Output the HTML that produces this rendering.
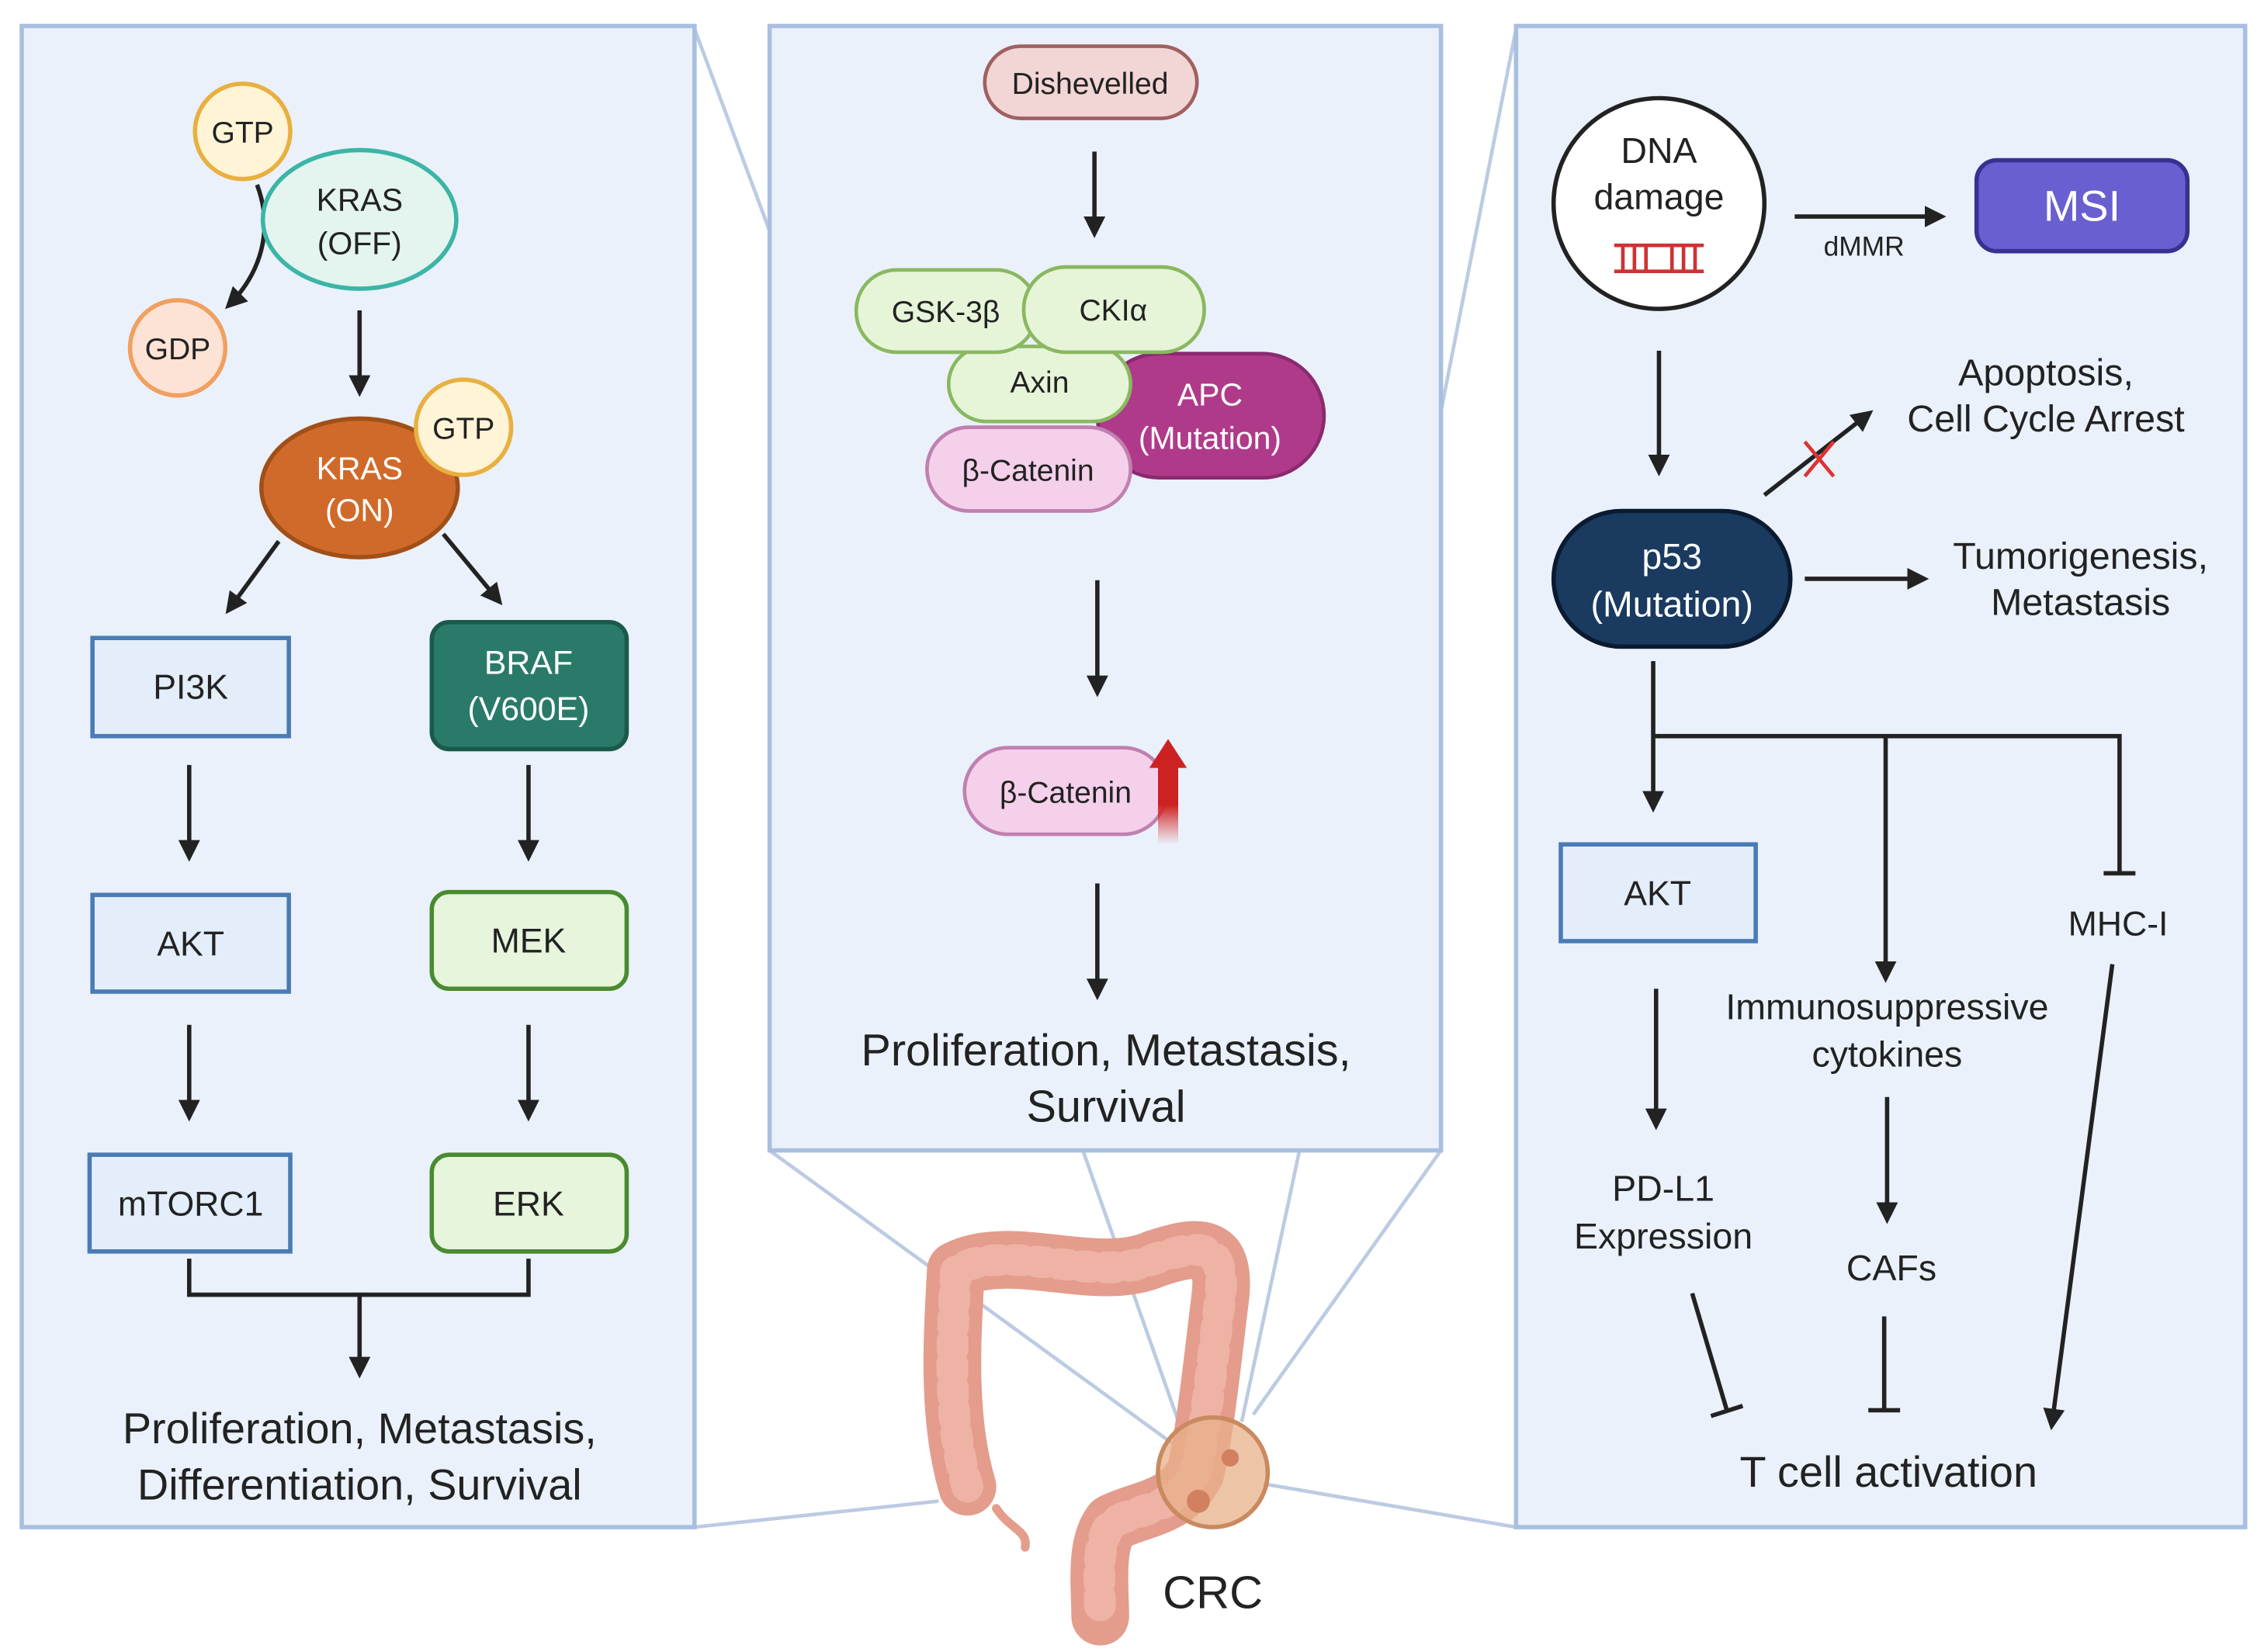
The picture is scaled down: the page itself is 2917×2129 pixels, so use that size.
<!DOCTYPE html>
<html><head><meta charset="utf-8"><style>
html,body{margin:0;padding:0;background:#fff}
svg{display:block}
text{font-family:"Liberation Sans",sans-serif;fill:#222;text-anchor:middle}
</style></head><body>
<svg width="2917" height="2129" viewBox="0 0 1568 1144.5" xmlns="http://www.w3.org/2000/svg">
<defs>
<marker id="ar" markerWidth="5" markerHeight="5" refX="4" refY="2.5" orient="auto" markerUnits="strokeWidth">
<path d="M0,0 L5,2.5 L0,5 z" fill="#222"/></marker>
<linearGradient id="rg" x1="0" y1="1" x2="0" y2="0"><stop offset="0" stop-color="#d33" stop-opacity="0"/><stop offset="0.5" stop-color="#c22"/><stop offset="1" stop-color="#c22"/></linearGradient>
</defs>
<g stroke="#bccbe2" stroke-width="2.5" fill="none">
<line x1="481" y1="20" x2="533" y2="160"/>
<line x1="998" y1="285" x2="1050" y2="20"/>
<line x1="481" y1="1058" x2="650" y2="1040"/>
<line x1="1050" y1="1058" x2="875" y2="1028"/>
<line x1="533" y1="797" x2="812" y2="1000"/>
<line x1="750" y1="797" x2="818" y2="990"/>
<line x1="900" y1="797" x2="860" y2="985"/>
<line x1="998" y1="797" x2="868" y2="980"/>
</g>
<g fill="#eaf1fb" stroke="#a9bfe0" stroke-width="3">
<rect x="15" y="18" width="466" height="1040"/>
<rect x="533" y="18" width="465" height="779"/>
<rect x="1050" y="18" width="505" height="1040"/>
</g>
<g fill="none" stroke-linecap="round" stroke-linejoin="round">
<path d="M670,1030 C655,980 660,920 662,880 C700,860 760,890 800,872 C830,862 850,860 845,900 C840,940 835,990 828,1020 C815,1045 790,1045 770,1055 C758,1070 762,1100 762,1120" stroke="#e49c8c" stroke-width="40"/>
<path d="M670,1030 C655,980 660,920 662,880 C700,860 760,890 800,872 C830,862 850,860 845,900 C840,940 835,990 828,1020 C815,1045 790,1045 770,1055 C758,1070 762,1100 762,1120" stroke="#eeb3a5" stroke-width="22" stroke-dasharray="6 10"/>
<path d="M690,1045 C700,1060 712,1060 710,1072" stroke="#e49c8c" stroke-width="6"/>
</g>
<circle cx="840" cy="1020" r="38" fill="#e8b08a" fill-opacity="0.75" stroke="#c98a60" stroke-width="3"/>
<circle cx="830" cy="1040" r="8" fill="#d28060"/><circle cx="852" cy="1010" r="6" fill="#d28060"/>
<text x="840" y="1114" font-size="32">CRC</text>

<path d="M178,128 C190,160 180,190 158,212" stroke="#222" stroke-width="3" fill="none" marker-end="url(#ar)"/>
<ellipse cx="249" cy="152" rx="67" ry="48" fill="#e4f4ef" stroke="#3bb5a5" stroke-width="3"/>
<text x="249" y="146" font-size="22">KRAS</text><text x="249" y="176" font-size="22">(OFF)</text>
<circle cx="168" cy="91" r="33" fill="#fff4d6" stroke="#e8b040" stroke-width="3"/><text x="168" y="99" font-size="21">GTP</text>
<circle cx="123" cy="241" r="33" fill="#fde2d6" stroke="#f0a060" stroke-width="3"/><text x="123" y="249" font-size="21">GDP</text>
<line x1="249" y1="215" x2="249" y2="272" stroke="#222" stroke-width="3" marker-end="url(#ar)"/>
<ellipse cx="249" cy="338" rx="68" ry="48" fill="#d06a2a" stroke="#a04f18" stroke-width="3"/>
<text x="249" y="332" font-size="22" style="fill:#fff">KRAS</text><text x="249" y="361" font-size="22" style="fill:#fff">(ON)</text>
<circle cx="321" cy="296" r="33" fill="#fff4d6" stroke="#e8b040" stroke-width="3"/><text x="321" y="304" font-size="21">GTP</text>
<line x1="193" y1="375" x2="158" y2="423" stroke="#222" stroke-width="3" marker-end="url(#ar)"/>
<line x1="307" y1="370" x2="346" y2="417" stroke="#222" stroke-width="3" marker-end="url(#ar)"/>
<rect x="64" y="442" width="136" height="68" fill="#e3eefa" stroke="#4a7bb5" stroke-width="3"/><text x="132" y="484" font-size="24">PI3K</text>
<rect x="299" y="431" width="135" height="88" rx="12" fill="#2a7a6a" stroke="#1a5a4a" stroke-width="3"/>
<text x="366" y="467" font-size="23" style="fill:#fff">BRAF</text><text x="366" y="499" font-size="23" style="fill:#fff">(V600E)</text>
<g stroke="#222" stroke-width="3" marker-end="url(#ar)">
<line x1="131" y1="530" x2="131" y2="594"/><line x1="366" y1="530" x2="366" y2="594"/>
<line x1="131" y1="710" x2="131" y2="774"/><line x1="366" y1="710" x2="366" y2="774"/>
<line x1="249" y1="897" x2="249" y2="952"/>
</g>
<rect x="64" y="620" width="136" height="67" fill="#e3eefa" stroke="#4a7bb5" stroke-width="3"/><text x="132" y="662" font-size="24">AKT</text>
<rect x="299" y="618" width="135" height="67" rx="12" fill="#e6f5dc" stroke="#4a8a30" stroke-width="3"/><text x="366" y="660" font-size="24">MEK</text>
<rect x="62" y="800" width="139" height="67" fill="#e3eefa" stroke="#4a7bb5" stroke-width="3"/><text x="132" y="842" font-size="24">mTORC1</text>
<rect x="299" y="800" width="135" height="67" rx="12" fill="#e6f5dc" stroke="#4a8a30" stroke-width="3"/><text x="366" y="842" font-size="24">ERK</text>
<path d="M131,872 V897 H366 V872" stroke="#222" stroke-width="3" fill="none"/>
<text x="249" y="1000" font-size="30">Proliferation, Metastasis,</text>
<text x="249" y="1039" font-size="30">Differentiation, Survival</text>

<rect x="682" y="32" width="147" height="50" rx="25" fill="#f2d5d5" stroke="#a06060" stroke-width="2.5"/><text x="755" y="65" font-size="21">Dishevelled</text>
<g stroke="#222" stroke-width="3" marker-end="url(#ar)">
<line x1="758" y1="105" x2="758" y2="162"/><line x1="760" y1="402" x2="760" y2="480"/><line x1="760" y1="612" x2="760" y2="690"/>
</g>
<rect x="760" y="245" width="157" height="86" rx="43" fill="#b03a8a" stroke="#8a2a70" stroke-width="2.5"/>
<text x="838" y="281" font-size="22" style="fill:#fff">APC</text><text x="838" y="311" font-size="22" style="fill:#fff">(Mutation)</text>
<rect x="657" y="240" width="126" height="52" rx="26" fill="#e6f5d8" stroke="#8ab860" stroke-width="2.5"/><text x="720" y="272" font-size="21">Axin</text>
<rect x="593" y="187" width="125" height="57" rx="28" fill="#e6f5d8" stroke="#8ab860" stroke-width="2.5"/><text x="655" y="223" font-size="21">GSK-3β</text>
<rect x="709" y="185" width="125" height="59" rx="29" fill="#e6f5d8" stroke="#8ab860" stroke-width="2.5"/><text x="771" y="222" font-size="21">CKIα</text>
<rect x="642" y="296" width="141" height="58" rx="29" fill="#f5d0ea" stroke="#c080b0" stroke-width="2.5"/><text x="712" y="333" font-size="21">β-Catenin</text>
<rect x="668" y="518" width="140" height="60" rx="30" fill="#f5d0ea" stroke="#c080b0" stroke-width="2.5"/><text x="738" y="556" font-size="21">β-Catenin</text>
<rect x="802" y="530" width="14" height="55" fill="url(#rg)"/><path d="M796,532 L809,512 L822,532 z" fill="#c22"/>
<text x="766" y="738" font-size="31">Proliferation, Metastasis,</text>
<text x="766" y="777" font-size="31">Survival</text>

<circle cx="1149" cy="141" r="73" fill="#fff" stroke="#222" stroke-width="3"/>
<text x="1149" y="113" font-size="25">DNA</text><text x="1149" y="145" font-size="25">damage</text>
<g stroke="#c33" stroke-width="2.5"><line x1="1118" y1="170" x2="1180" y2="170"/><line x1="1118" y1="188" x2="1180" y2="188"/>
<line x1="1124" y1="170" x2="1124" y2="188"/><line x1="1132" y1="170" x2="1132" y2="188"/><line x1="1140" y1="170" x2="1140" y2="188"/><line x1="1158" y1="170" x2="1158" y2="188"/><line x1="1166" y1="170" x2="1166" y2="188"/><line x1="1174" y1="170" x2="1174" y2="188"/></g>
<line x1="1243" y1="150" x2="1345" y2="150" stroke="#222" stroke-width="3" marker-end="url(#ar)"/>
<text x="1291" y="177" font-size="19">dMMR</text>
<rect x="1369" y="111" width="146" height="63" rx="14" fill="#6a5fd0" stroke="#3a3090" stroke-width="3"/><text x="1442" y="153" font-size="30" style="fill:#fff">MSI</text>
<line x1="1149" y1="243" x2="1149" y2="327" stroke="#222" stroke-width="3" marker-end="url(#ar)"/>
<text x="1417" y="267" font-size="26">Apoptosis,</text><text x="1417" y="299" font-size="26">Cell Cycle Arrest</text>
<line x1="1222" y1="343" x2="1295" y2="286" stroke="#222" stroke-width="3" marker-end="url(#ar)"/>
<g stroke="#d33" stroke-width="2.5"><line x1="1250" y1="306" x2="1270" y2="330"/><line x1="1270" y1="306" x2="1250" y2="330"/></g>
<rect x="1076" y="354" width="164" height="94" rx="47" fill="#1a3a5f" stroke="#0a1a30" stroke-width="3"/>
<text x="1158" y="394" font-size="25" style="fill:#fff">p53</text><text x="1158" y="427" font-size="25" style="fill:#fff">(Mutation)</text>
<line x1="1250" y1="401" x2="1333" y2="401" stroke="#222" stroke-width="3" marker-end="url(#ar)"/>
<text x="1441" y="394" font-size="26">Tumorigenesis,</text><text x="1441" y="426" font-size="26">Metastasis</text>
<g stroke="#222" stroke-width="3" fill="none">
<line x1="1145" y1="458" x2="1145" y2="560" marker-end="url(#ar)"/>
<path d="M1145,510 H1468 V605"/><line x1="1457" y1="605" x2="1479" y2="605"/>
<line x1="1306" y1="510" x2="1306" y2="678" marker-end="url(#ar)"/>
<line x1="1147" y1="685" x2="1147" y2="780" marker-end="url(#ar)"/>
<line x1="1307" y1="760" x2="1307" y2="845" marker-end="url(#ar)"/>
<line x1="1172" y1="896" x2="1196" y2="977"/><line x1="1185" y1="981" x2="1207" y2="974"/>
<line x1="1305" y1="912" x2="1305" y2="977"/><line x1="1294" y1="977" x2="1316" y2="977"/>
<line x1="1463" y1="668" x2="1421" y2="988" marker-end="url(#ar)"/>
</g>
<rect x="1081" y="585" width="135" height="67" fill="#e3eefa" stroke="#4a7bb5" stroke-width="3"/><text x="1148" y="627" font-size="24">AKT</text>
<text x="1467" y="648" font-size="24">MHC-I</text>
<text x="1307" y="706" font-size="25">Immunosuppressive</text><text x="1307" y="739" font-size="25">cytokines</text>
<text x="1152" y="832" font-size="25">PD-L1</text><text x="1152" y="865" font-size="25">Expression</text>
<text x="1310" y="887" font-size="25">CAFs</text>
<text x="1308" y="1030" font-size="30">T cell activation</text>
</svg>
</body></html>
